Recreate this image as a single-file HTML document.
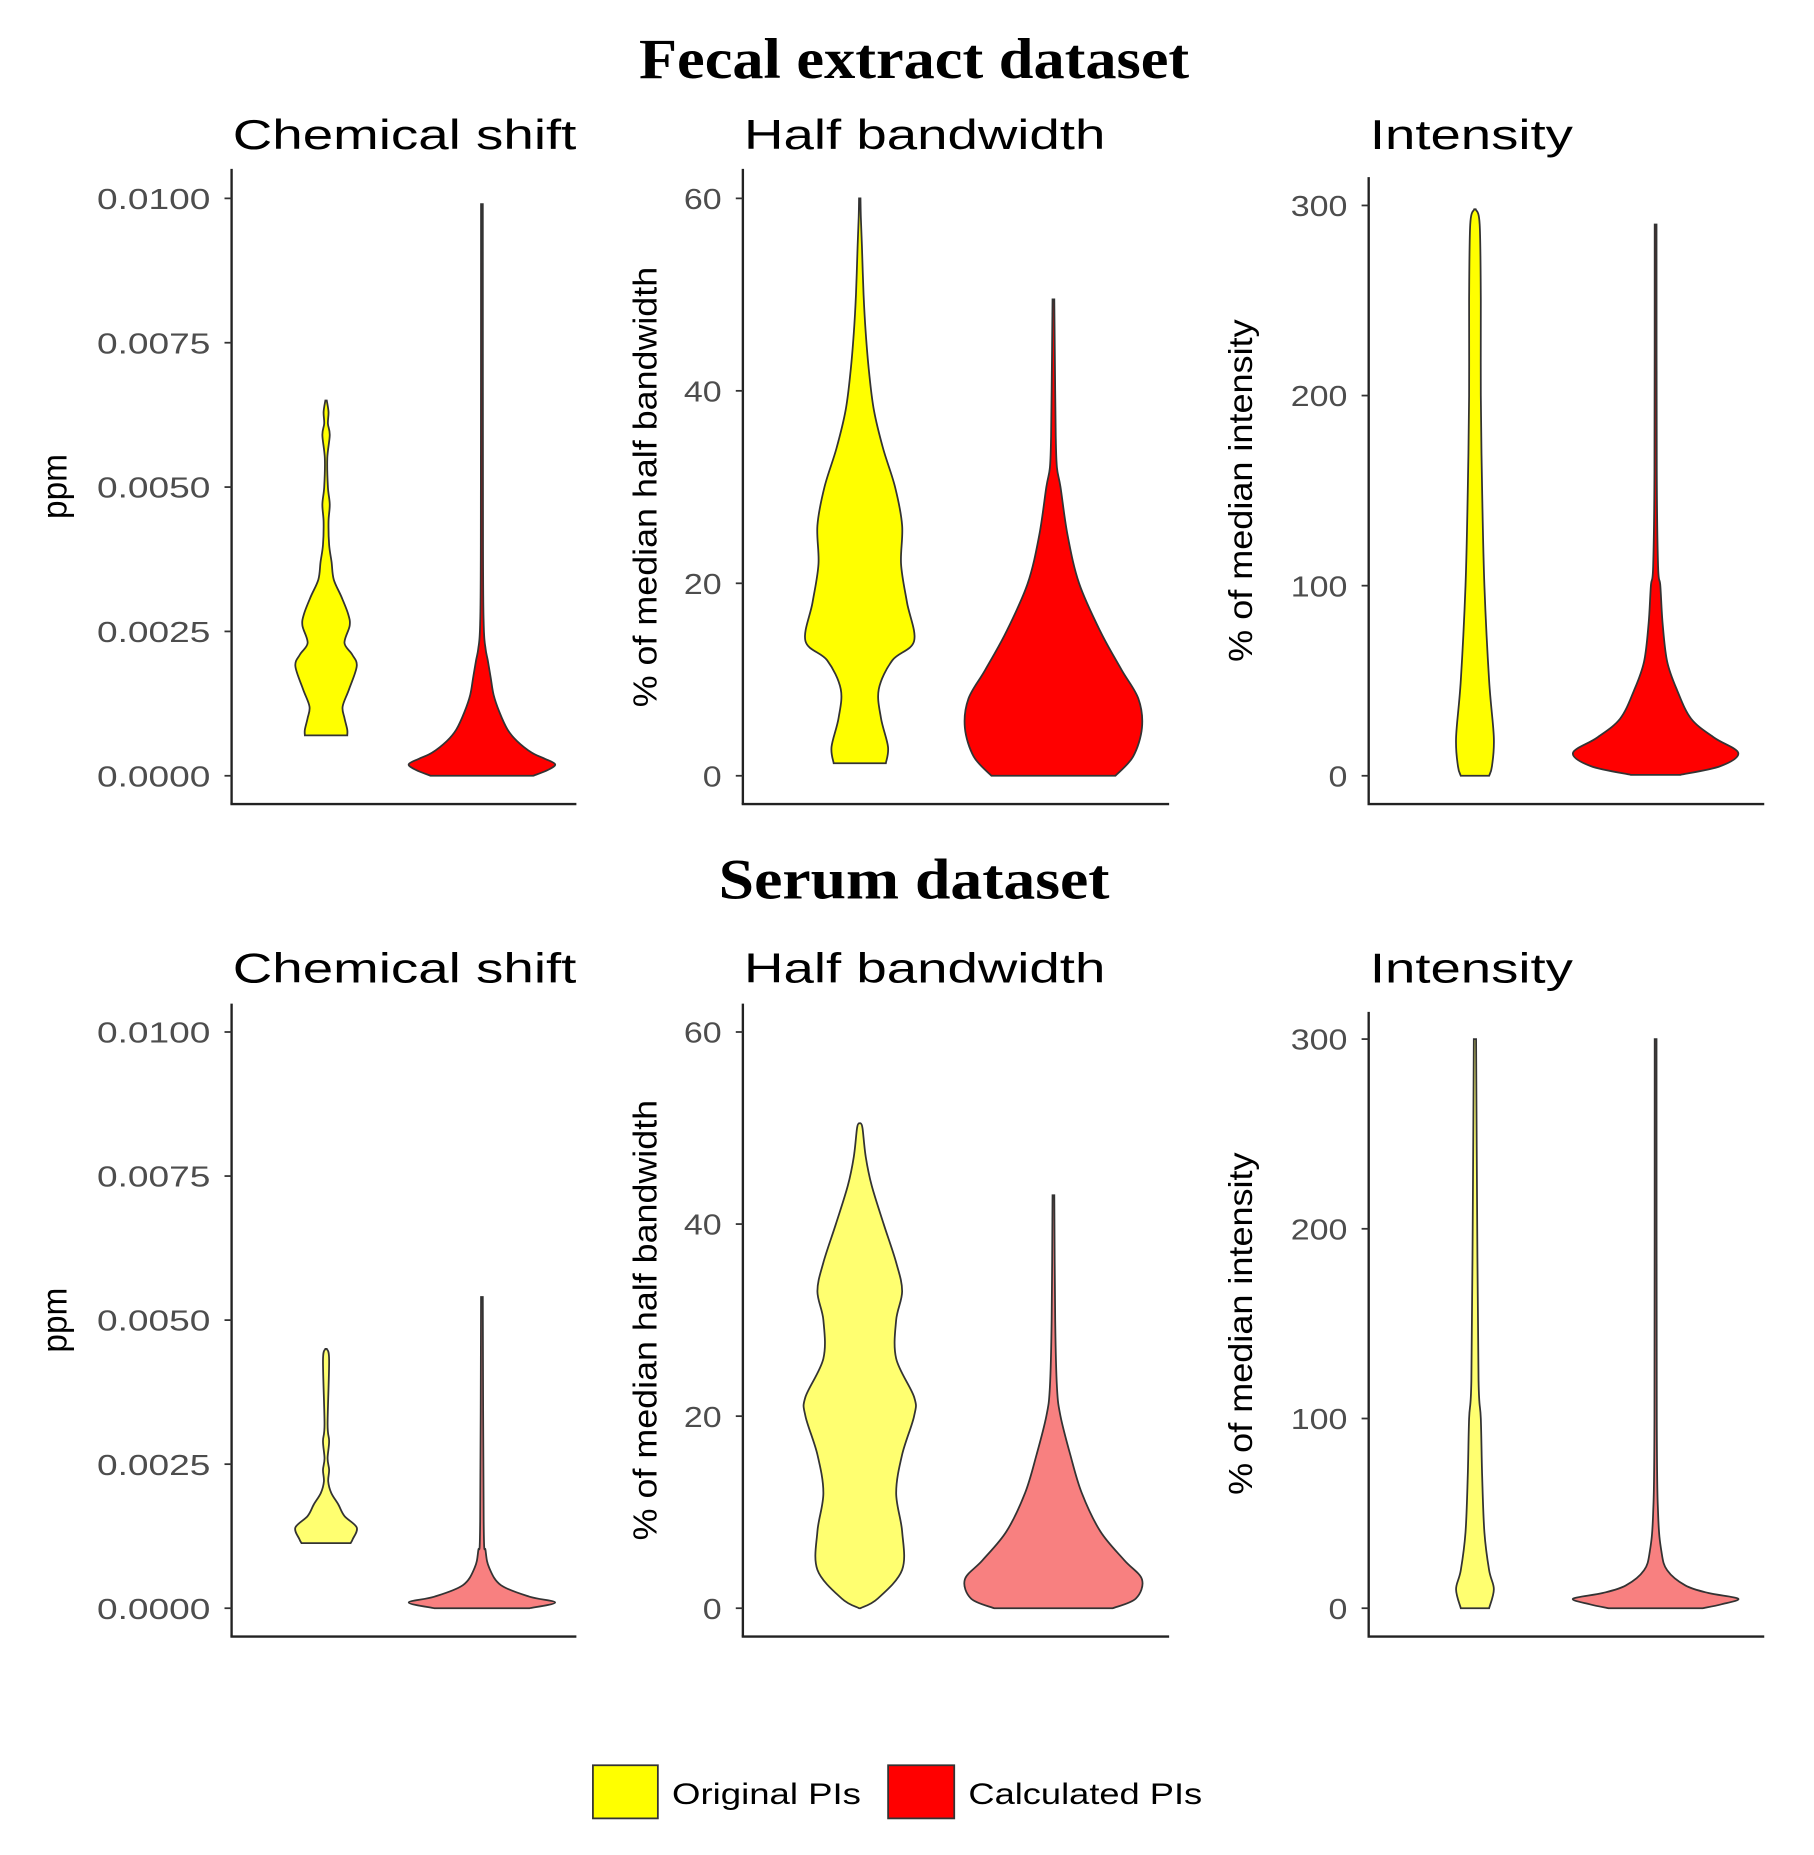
<!DOCTYPE html>
<html><head><meta charset="utf-8"><style>
html,body{margin:0;padding:0;background:#fff;}
svg{display:block;}
</style></head><body>
<svg id="fig" width="1814" height="1855" viewBox="0 0 1536 1571" xmlns="http://www.w3.org/2000/svg" font-family="Liberation Sans, sans-serif">
<text x="774" y="66" text-anchor="middle" font-family="Liberation Serif, serif" font-weight="bold" font-size="48" textLength="466" lengthAdjust="spacingAndGlyphs">Fecal extract dataset</text>
<text x="774" y="761" text-anchor="middle" font-family="Liberation Serif, serif" font-weight="bold" font-size="48" textLength="331" lengthAdjust="spacingAndGlyphs">Serum dataset</text>
<g>
<rect x="502" y="1495" width="55" height="45" fill="#ffff00" stroke="#333" stroke-width="1.5"/>
<text x="569" y="1528" font-size="25" textLength="160" lengthAdjust="spacingAndGlyphs">Original PIs</text>
<rect x="752" y="1495" width="56" height="45" fill="#ff0000" stroke="#333" stroke-width="1.5"/>
<text x="820" y="1528" font-size="25" textLength="198" lengthAdjust="spacingAndGlyphs">Calculated PIs</text>
</g>
</svg>
<script>
// ---- data ----
const panelTitles = ["Chemical shift","Half bandwidth","Intensity"];
const yTitles = ["ppm","% of median half bandwidth","% of median intensity"];
const ticksChem = [0,0.0025,0.005,0.0075,0.01];
const tickLabelsChem = ["0.0000","0.0025","0.0050","0.0075","0.0100"];
const ticksHalf = [0,20,40,60];
const tickLabelsHalf = ["0","20","40","60"];
const ticksInt = [0,100,200,300];
const tickLabelsInt = ["0","100","200","300"];

// fecal violins (values, relative density)
const fecalChemOrigV = [0.0007,0.0008,0.0010,0.0012,0.0015,0.0019,0.0021,0.0023,0.0026,0.0028,0.0031,0.0034,0.0037,0.0040,0.0044,0.0047,0.0050,0.0055,0.0059,0.0061,0.0063,0.0065];
const fecalChemOrigD = [0.69,0.69,0.6,0.54,0.75,1.0,0.85,0.6,0.77,0.72,0.5,0.25,0.18,0.1,0.08,0.12,0.06,0.04,0.12,0.06,0.08,0];
const fecalChemCalcV = [0,0.0001,0.0002,0.0003,0.0004,0.0006,0.0008,0.0011,0.0014,0.0017,0.0020,0.0022,0.0026,0.0040,0.0099];
const fecalChemCalcD = [0.7,0.9,1,0.85,0.68,0.48,0.35,0.24,0.16,0.12,0.08,0.05,0.025,0.015,0.012];
const fecalHalfOrigV = [1.3,3,6,9,12,14,18,22,26,30,34,38,42,46,50,55,58,60];
const fecalHalfOrigD = [0.48,0.52,0.39,0.35,0.6,1.0,0.87,0.76,0.78,0.65,0.43,0.26,0.17,0.11,0.07,0.04,0.02,0];
const fecalHalfCalcV = [0,2,5,8,11,15,20,25,30,32,35,40,49.5];
const fecalHalfCalcD = [0.7,0.9,1,0.96,0.77,0.53,0.29,0.16,0.08,0.04,0.027,0.02,0.01];
const fecalIntOrigV = [0,5,20,50,100,150,200,250,290,298];
const fecalIntOrigD = [0.75,0.9,1,0.75,0.5,0.38,0.31,0.31,0.25,0];
const fecalIntCalcV = [0.5,5,12,20,30,45,60,80,100,110,160,290];
const fecalIntCalcD = [0.3,0.78,1,0.71,0.43,0.26,0.14,0.085,0.057,0.03,0.014,0.011];
// serum violins
const serumChemOrigV = [0.00113,0.0012,0.0014,0.0016,0.0018,0.0020,0.0022,0.0024,0.0026,0.0029,0.0032,0.0043,0.0045];
const serumChemOrigD = [0.8,0.87,1,0.6,0.4,0.17,0.07,0.1,0.05,0.1,0.05,0.1,0];
const serumChemCalcV = [0,0.0001,0.0002,0.0004,0.0007,0.0010,0.0015,0.0054];
const serumChemCalcD = [0.65,1,0.65,0.26,0.1,0.05,0.024,0.012];
const serumHalfOrigV = [0,1,4,8,12,16,20,22,26,30,33,36,40,44,47,50,50.5];
const serumHalfOrigD = [0,0.33,0.78,0.78,0.67,0.78,1,1,0.67,0.67,0.78,0.67,0.44,0.22,0.11,0.05,0];
const serumHalfCalcV = [0,1,3,5,8,12,16,20,23,30,43];
const serumHalfCalcD = [0.67,0.93,1,0.8,0.53,0.32,0.19,0.08,0.04,0.02,0.01];
const serumIntOrigV = [0,10,20,40,70,100,120,200,300];
const serumIntOrigD = [0.75,1,0.75,0.5,0.38,0.31,0.19,0.12,0.06];
const serumIntCalcV = [0,2,5,8,12,20,30,50,100,300];
const serumIntCalcD = [0.57,0.79,1,0.64,0.36,0.14,0.07,0.03,0.014,0.011];

// ---- layout ----
const NS = "http://www.w3.org/2000/svg";
const svg = document.getElementById('fig');
const rows = [
 {name:'fecal', titleY:126, axisTop:143, axisBot:681, chemTop:168, chemBot:657, intTop:174, intBot:657, intAxisTop:150, fillO:'#ffff00', fillC:'#ff0000',
  data:[[fecalChemOrigV,fecalChemOrigD,fecalChemCalcV,fecalChemCalcD],[fecalHalfOrigV,fecalHalfOrigD,fecalHalfCalcV,fecalHalfCalcD],[fecalIntOrigV,fecalIntOrigD,fecalIntCalcV,fecalIntCalcD]]},
 {name:'serum', titleY:832, axisTop:850, axisBot:1386, chemTop:874, chemBot:1362, intTop:880, intBot:1362, intAxisTop:857, fillO:'#ffff70', fillC:'#f88080',
  data:[[serumChemOrigV,serumChemOrigD,serumChemCalcV,serumChemCalcD],[serumHalfOrigV,serumHalfOrigD,serumHalfCalcV,serumHalfCalcD],[serumIntOrigV,serumIntOrigD,serumIntCalcV,serumIntCalcD]]}
];
const cols = [
 {ax:196, right:488, cO:276, cC:408, wO:26, wC:62, max:0.01, ticks:ticksChem, labels:tickLabelsChem, ytX:56, titleW:291, ytW:55, ytFs:30},
 {ax:629, right:990, cO:728, cC:892, wO:46, wC:75, max:60, ticks:ticksHalf, labels:tickLabelsHalf, ytX:556, titleW:306, ytW:373, ytFs:28},
 {ax:1159, right:1494, cO:1249, cC:1402, wO:16, wC:70, max:300, ticks:ticksInt, labels:tickLabelsInt, ytX:1060, titleW:172, ytW:290, ytFs:28}
];
function mk(tag, attrs){const e=document.createElementNS(NS,tag);for(const k in attrs)e.setAttribute(k,attrs[k]);svg.appendChild(e);return e;}
function smoothPath(pts){
  let d='M'+pts[0][0].toFixed(2)+','+pts[0][1].toFixed(2);
  for(let i=1;i<pts.length;i++){
    const p0=pts[i-2]||pts[i-1],p1=pts[i-1],p2=pts[i],p3=pts[i+1]||pts[i];
    const c1=[p1[0]+(p2[0]-p0[0])/6,p1[1]+(p2[1]-p0[1])/6];
    const c2=[p2[0]-(p3[0]-p1[0])/6,p2[1]-(p3[1]-p1[1])/6];
    d+='C'+c1[0].toFixed(2)+','+c1[1].toFixed(2)+' '+c2[0].toFixed(2)+','+c2[1].toFixed(2)+' '+p2[0].toFixed(2)+','+p2[1].toFixed(2);
  }
  return d;
}
function violin(vals,dens,cx,halfMax,yScale){
  const right=vals.map((v,i)=>[cx+Math.max(dens[i]*halfMax,0.6),yScale(v)]);
  const left=vals.map((v,i)=>[cx-Math.max(dens[i]*halfMax,0.6),yScale(v)]).reverse();
  let d=smoothPath(right);
  d+='L'+left[0][0].toFixed(2)+','+left[0][1].toFixed(2);
  d+=smoothPath(left).replace(/^M[^C]*/,'');
  return d+'Z';
}
rows.forEach(r=>{
  cols.forEach((c,ci)=>{
    const top = ci===2? r.intTop : r.chemTop, bot = ci===2? r.intBot : r.chemBot;
    const yScale = v => bot - v/c.max*(bot-top);
    const axTop = ci===2? r.intAxisTop : r.axisTop;
    let e;
    e=mk('text',{x:c.ax+1,y:r.titleY,'font-size':35,textLength:c.titleW,lengthAdjust:'spacingAndGlyphs'});e.textContent=panelTitles[ci];
    
    
    e=mk('line',{x1:c.ax,y1:axTop,x2:c.ax,y2:r.axisBot,stroke:'#222','stroke-width':2});
    
    
    e=mk('line',{x1:c.ax-1,y1:r.axisBot,x2:c.right,y2:r.axisBot,stroke:'#222','stroke-width':2});
    
    
    c.ticks.forEach((t,ti)=>{
      const y=yScale(t);
      let l=mk('line',{x1:c.ax-6,y1:y,x2:c.ax,y2:y,stroke:'#333','stroke-width':1.5});
      
      
      const lab=c.labels[ti];
      let tx=mk('text',{x:c.ax-18,y:y+9,'text-anchor':'end','font-size':24,fill:'#4d4d4d',textLength:lab.length*16,lengthAdjust:'spacingAndGlyphs'});
      tx.textContent=lab;
      
      
    });
    const midY=(top+bot)/2;
    const yy = ci===0 ? (r.name==='fecal'?412:1118) : midY;
    e=mk('text',{x:c.ytX,y:yy,'text-anchor':'middle','font-size':c.ytFs,textLength:c.ytW,lengthAdjust:'spacingAndGlyphs'});
    e.setAttribute('transform','rotate(-90 '+c.ytX+' '+yy+')');
    e.textContent=yTitles[ci];
    
    
    const dd=r.data[ci];
    let p=mk('path',{d:violin(dd[0],dd[1],c.cO,c.wO,yScale),fill:r.fillO,stroke:'#333','stroke-width':1.5});
    
    
    p=mk('path',{d:violin(dd[2],dd[3],c.cC,c.wC,yScale),fill:r.fillC,stroke:'#333','stroke-width':1.5});
    
    
  });
});
</script>
</body></html>
